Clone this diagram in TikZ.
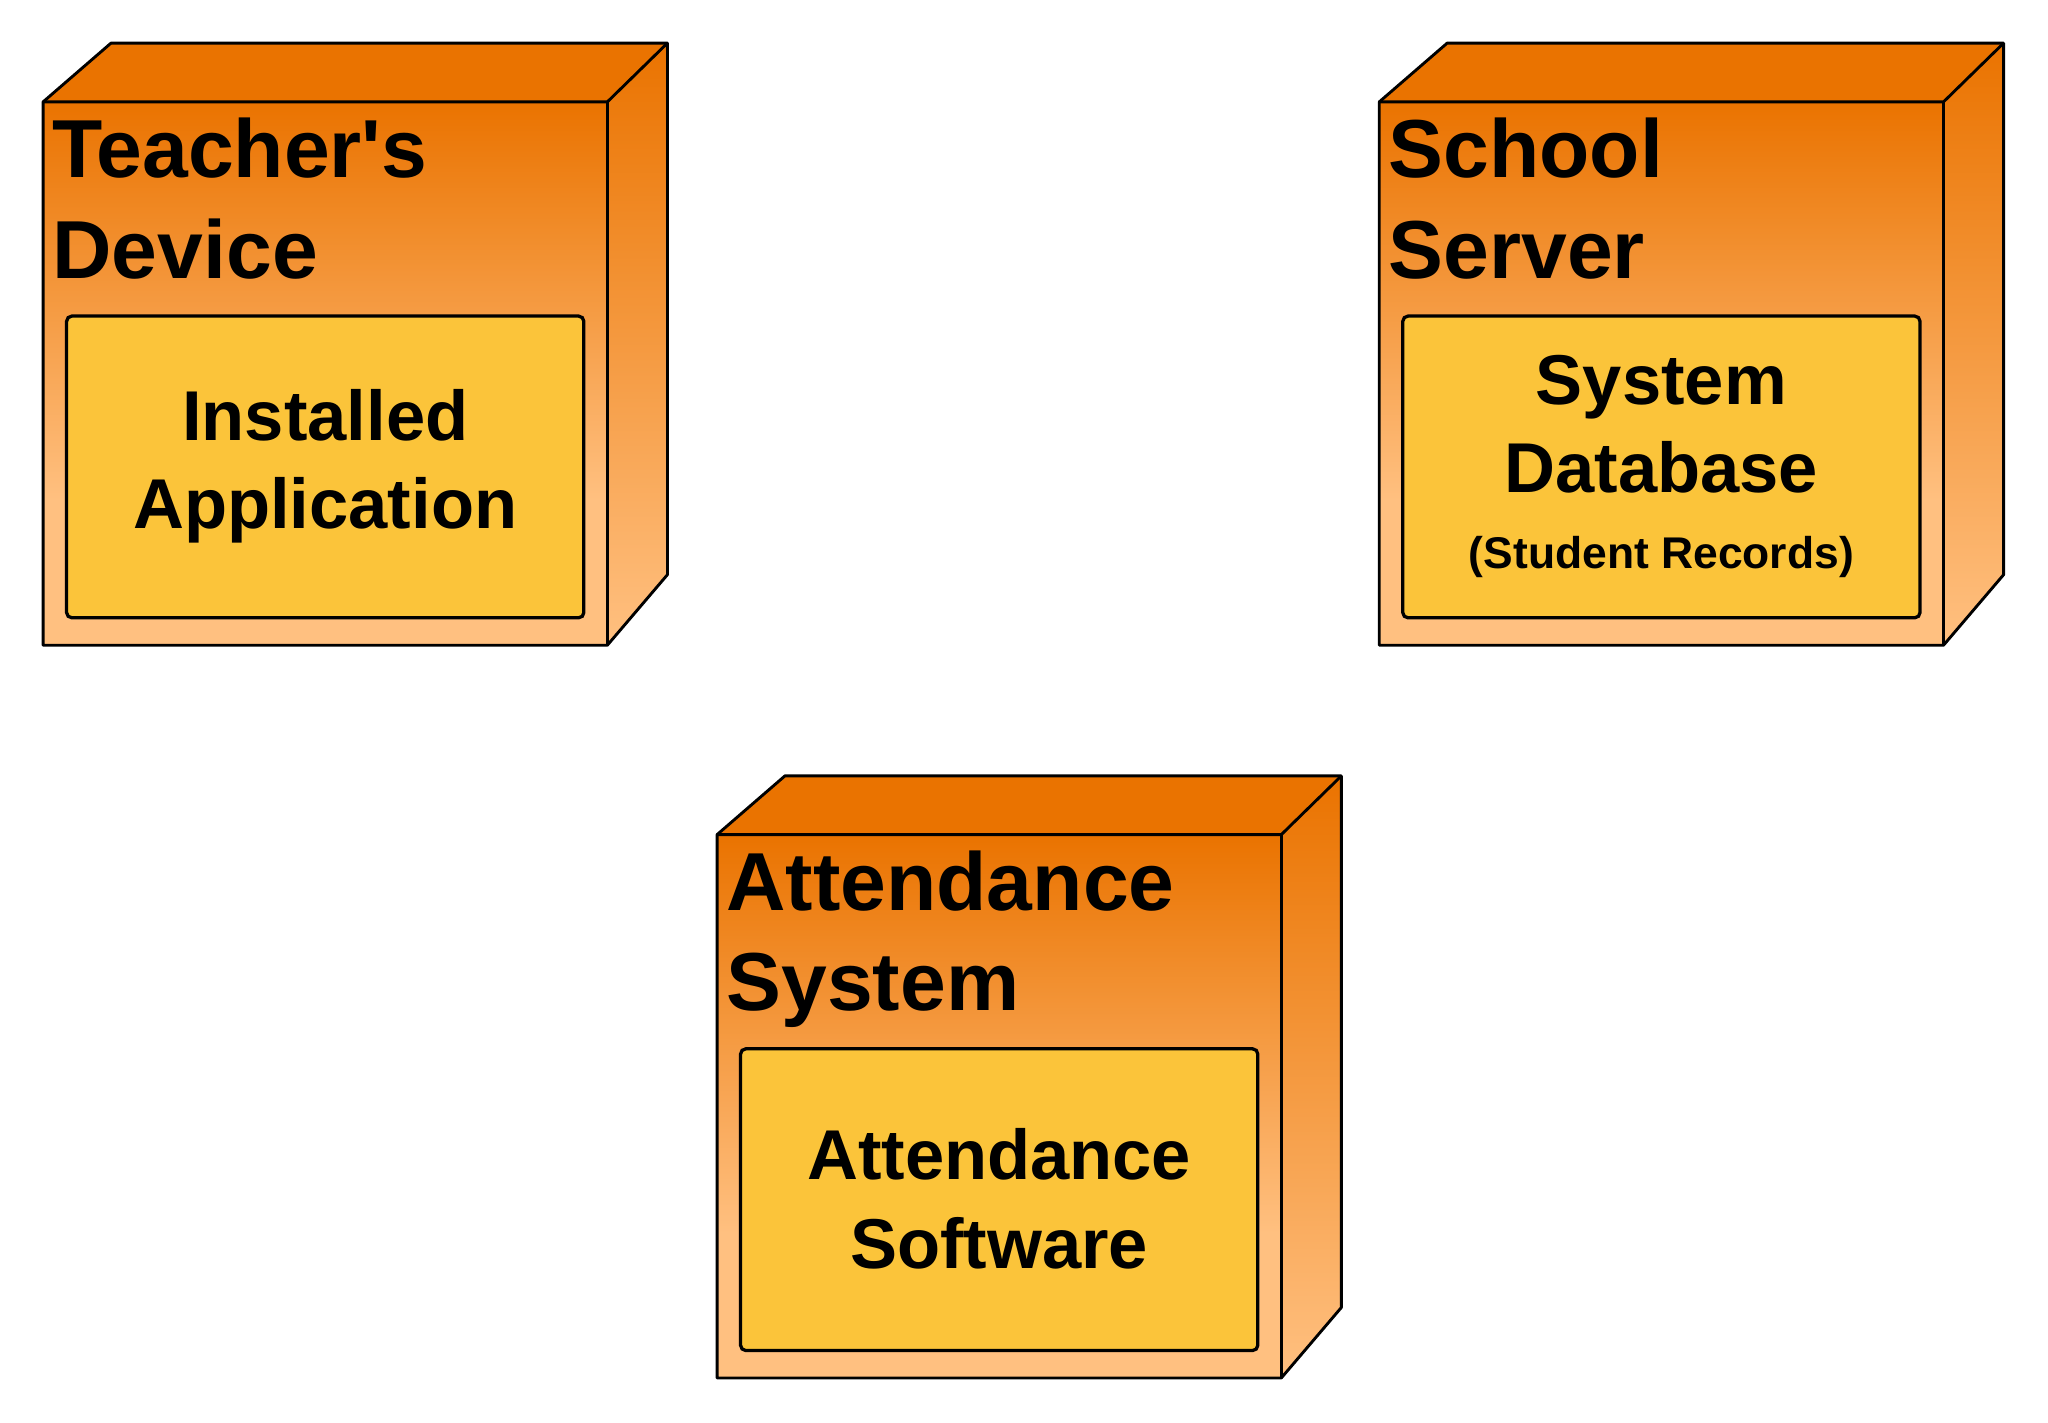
\documentclass[tikz,border=0pt]{standalone}
\usepackage{fontspec}
\newfontfamily\plainsans{Liberation Sans}
\begin{document}
\begin{tikzpicture}[x=1pt,y=-1pt,
  edge/.style={draw=black,line width=2.2pt,line join=round},
  inner/.style={draw=black,line width=2.5pt,rounded corners=4pt},
  ttl/.style={font=\plainsans\fontsize{63}{77}\selectfont\bfseries,align=left,anchor=north west,inner sep=0},
  itx/.style={font=\plainsans\fontsize{54}{68}\selectfont\bfseries,align=center,inner sep=0}]
\definecolor{dk}{HTML}{EA7300}
\definecolor{lt}{HTML}{FFC080}
\definecolor{yl}{HTML}{FBC43A}
\useasboundingbox (0,0) rectangle (1568,1089);
\newcommand{\cube}[5]{% x0 y0 name title inner
  \begin{scope}[shift={(#1,#2)}]
  \fill[top color=dk,bottom color=lt] (0,45) rectangle (432,350);
  \fill[lt] (0,349) rectangle (432,461);
  \fill[dk] (0,45) -- (52,0) -- (478,0) -- (432,45) -- cycle;
  \fill[top color=dk,bottom color=lt] (432,45) -- (478,0) -- (478,407) -- (432,461) -- cycle;
  \draw[edge] (0,45) -- (52,0) -- (478,0) -- (478,407) -- (432,461) -- (0,461) -- cycle;
  \draw[edge] (0,45) -- (432,45) -- (478,0);
  \draw[edge] (432,45) -- (432,461);
  \node[ttl] (#3t) at (7,57) {#4};
  \draw[inner,fill=yl] (18,209) rectangle (414,440);
  \node[itx] (#3i) at (216,324) {#5};
  \end{scope}}
\cube{33}{33}{a}{Teacher's\\Device}{Installed\\Application}
\cube{1056}{33}{b}{School\\Server}{System\\Database\\[-10pt]{\fontsize{34}{40}\selectfont(Student Records)}}
\cube{549}{594}{c}{Attendance\\System}{Attendance\\Software}
\end{tikzpicture}
\end{document}
